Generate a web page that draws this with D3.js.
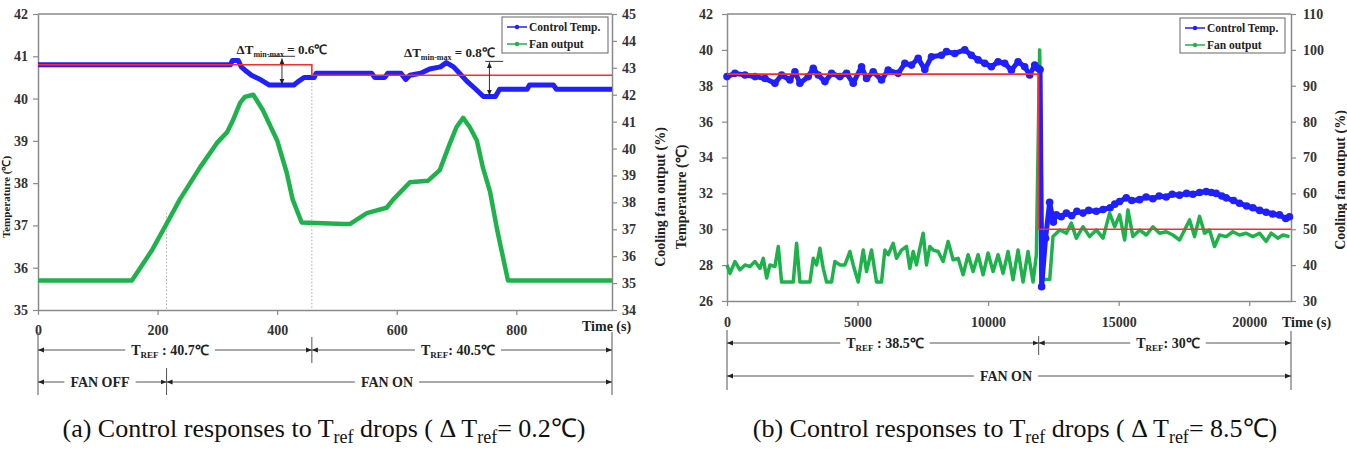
<!DOCTYPE html>
<html>
<head>
<meta charset="utf-8">
<script src="https://d3js.org/d3.v7.min.js"></script>
<style>
  body { margin: 0; background: #fff; }
  svg text { font-family: "Liberation Serif", "Times New Roman", serif; }
</style>
</head>
<body>
<div id="chart"></div>
<script>
// ---- panel (a): dT_ref = 0.2 ----
var aTicksX = [0, 200, 400, 600, 800];
var aTicksTemp = [35, 36, 37, 38, 39, 40, 41, 42];
var aTicksFan = [34, 35, 36, 37, 38, 39, 40, 41, 42, 43, 44, 45];
var aTempTime = [0,322,325,335,340,348,357,372,387,428,435,445,462,465,558,563,580,585,607,615,622,640,655,673,683,695,705,718,730,745,765,772,818,822,862,867,960];
var aTempVal  = [40.8,40.8,40.9,40.9,40.75,40.65,40.55,40.45,40.32,40.32,40.4,40.5,40.5,40.6,40.6,40.5,40.5,40.6,40.6,40.45,40.55,40.6,40.7,40.75,40.85,40.75,40.6,40.4,40.25,40.05,40.05,40.22,40.22,40.32,40.32,40.22,40.22];
var aFanTime = [0,157,190,215,237,271,299,316,326,338,346,360,376,400,416,426,441,512,522,550,583,594,622,652,672,689,700,711,722,734,744,756,768,786,960];
var aFanVal  = [35.1,35.1,36.2,37.2,38.1,39.3,40.2,40.6,41.05,41.7,41.92,42.0,41.43,40.3,39.1,38.1,37.25,37.2,37.2,37.6,37.8,38.1,38.75,38.8,39.2,40.2,40.8,41.14,40.8,40.3,39.3,38.4,36.97,35.1,35.1];
var aRefTime = [0, 458, 458, 960];
var aRefVal  = [40.8, 40.8, 40.55, 40.55];

// ---- panel (b): dT_ref = 8.5 ----
var bTicksX = [0, 5000, 10000, 15000, 20000];
var bTicksTemp = [26, 28, 30, 32, 34, 36, 38, 40, 42];
var bTicksFan = [30, 40, 50, 60, 70, 80, 90, 100, 110];
var bTempTime = [0,306,689,1071,1454,1836,2091,2410,2602,2793,3112,3303,3495,3750,4005,4324,4579,4834,5153,5344,5599,5918,6173,6556,6811,7066,7321,7576,7831,8213,8405,8723,9106,9361,9616,9871,10126,10381,10637,10892,11147,11402,11593,11785,11912,11990,
  12050,12200,12356,12500,12612,12800,12996,13200,13400,13634,13850,14144,14400,14674,14850,15036,15291,15500,15801,16050,16311,16550,16822,17050,17332,17600,17842,18100,18352,18550,18735,18950,19117,19400,19627,19900,20138,20400,20648,20900,21158,21400,21541];
var bTempVal  = [38.51,38.69,38.6,38.51,38.41,38.14,38.6,38.32,38.78,38.14,38.51,38.97,38.6,38.23,38.69,38.51,38.69,38.14,39.06,38.41,38.78,38.32,38.87,38.69,39.25,39.15,39.53,38.9,39.62,39.7,39.9,39.8,40.0,39.7,39.44,39.25,39.06,39.34,39.25,38.87,39.34,39.06,38.6,39.15,38.97,38.9,
  26.8,29.5,31.5,30.4,30.8,30.7,30.9,30.75,31.0,30.9,31.05,31.0,31.1,31.2,31.4,31.55,31.75,31.6,31.65,31.8,31.7,31.85,31.8,31.95,31.9,32.0,31.95,32.05,32.1,32.05,32.0,31.85,31.75,31.6,31.45,31.3,31.2,31.05,30.95,30.85,30.8,30.6,30.7];
var bFanTime = [0,115,306,497,689,880,1071,1262,1390,1518,1645,1836,1964,2091,2538,2665,2793,3176,3303,3431,3558,3686,3813,4005,4132,4324,4515,4706,4834,5025,5217,5344,5535,5727,5918,6046,6173,6364,6492,6683,6875,7002,7130,7257,7385,7512,7640,7767,7895,8086,8277,8468,8660,8851,9042,9234,9425,9616,9808,9999,10190,10381,10573,10764,10955,11147,11338,11529,11720,11848,
  11975,12090,12360,12485,12741,12996,13187,13378,13634,13889,14144,14399,14654,14846,15036,15228,15355,15546,15801,16057,16311,16567,16822,17077,17332,17587,17715,17906,18097,18289,18480,18671,18863,19117,19372,19627,19883,20138,20393,20648,20840,21095,21286,21541];
var bFanVal  = [40.06,37.7,41.0,38.7,40.06,39.6,41.0,39.1,41.9,36.4,40.06,39.6,45.2,35.3,35.3,46.1,35.3,35.3,41.9,40.06,44.7,39.1,35.3,35.3,41.0,40.06,40.06,43.8,40.06,35.3,44.2,38.2,44.2,35.3,35.3,44.2,42.9,46.1,41.9,44.2,45.2,39.1,43.8,40.06,44.7,48.9,40.06,45.2,44.2,43.8,41.0,46.6,41.5,41.9,37.3,42.9,38.2,42.9,37.3,43.4,38.2,42.9,37.7,43.8,35.9,44.2,35.3,43.8,35.3,42.9,
  100,36,36,47.95,49.8,48.9,51.7,47.5,50.7,47.95,49.8,47.5,54.5,50.7,54.0,47.0,55.4,47.95,49.8,48.4,50.7,48.9,49.3,48.4,47.0,50.7,52.6,47.95,53.6,48.9,49.8,45.2,48.4,47.95,49.3,48.4,48.9,47.95,48.9,46.6,48.9,47.5,48.4,47.95];
var bRefTime = [0, 11936, 11936, 21600];
var bRefVal  = [38.65, 38.65, 30, 30];

var BLUE = "#1f1fff", GREEN = "#1db34a", RED = "#ff2a2a", AXIS = "#8a8a8a";

var svg = d3.select("#chart").append("svg")
    .attr("width", 1347)
    .attr("height", 451);

var defs = svg.append("defs");
defs.append("marker")
    .attr("id", "arr")
    .attr("markerUnits", "userSpaceOnUse")
    .attr("markerWidth", 7).attr("markerHeight", 6)
    .attr("refX", 6).attr("refY", 3)
    .attr("orient", "auto-start-reverse")
  .append("path")
    .attr("d", "M0,0.5 L6,3 L0,5.5 Z")
    .attr("fill", "#222");

function rich(g, x, y, parts, anchor) {
    // parts: [text, size, dy]
    var t = g.append("text")
        .attr("x", x).attr("y", y)
        .attr("text-anchor", anchor || "start")
        .attr("font-weight", "bold")
        .attr("fill", "#222");
    parts.forEach(function (p) {
        t.append("tspan").attr("font-size", p[1] + "px").attr("dy", p[2] || 0).text(p[0]);
    });
    return t;
}

function spanLabel(g, xa, xb, y, cx, parts) {
    var t = rich(g, cx, y + 5, parts, "middle");
    var bb = t.node().getBBox();
    g.append("line").attr("x1", bb.x - 6).attr("x2", xa).attr("y1", y).attr("y2", y)
        .attr("stroke", "#555").attr("marker-end", "url(#arr)");
    g.append("line").attr("x1", bb.x + bb.width + 6).attr("x2", xb).attr("y1", y).attr("y2", y)
        .attr("stroke", "#555").attr("marker-end", "url(#arr)");
}

function vtick(g, x, y1, y2) {
    g.append("line").attr("x1", x).attr("x2", x).attr("y1", y1).attr("y2", y2)
        .attr("stroke", "#555").attr("stroke-width", 1);
}

function zip(ts, vs) { return ts.map(function (t, i) { return [t, vs[i]]; }); }

function drawPanel(p) {
    var g = svg.append("g");
    var x = d3.scaleLinear().domain([0, p.xMax]).range([p.left, p.right]);
    var yT = d3.scaleLinear().domain(p.tempDomain).range([p.bottom, p.top]);
    var yF = d3.scaleLinear().domain(p.fanDomain).range([p.bottom, p.top]);
    var fmt = d3.format("d");

    // axes
    var ax = g.append("g").attr("transform", "translate(0," + p.bottom + ")")
        .call(d3.axisBottom(x).tickValues(p.xTicks).tickSize(5).tickSizeOuter(0).tickPadding(p.xPad).tickFormat(fmt));
    var al = g.append("g").attr("transform", "translate(" + p.left + ",0)")
        .call(d3.axisLeft(yT).tickValues(p.tempTicks).tickSize(5).tickSizeOuter(0).tickPadding(p.lPad).tickFormat(fmt));
    var ar = g.append("g").attr("transform", "translate(" + p.right + ",0)")
        .call(d3.axisRight(yF).tickValues(p.fanTicks).tickSize(5).tickSizeOuter(0).tickPadding(p.rPad).tickFormat(fmt));
    [ax, al, ar].forEach(function (a) {
        a.select(".domain").attr("stroke", AXIS).attr("stroke-width", 1.5);
        a.selectAll(".tick line").attr("stroke", AXIS).attr("stroke-width", 1.2);
        a.selectAll("text").attr("font-family", "'Liberation Serif', serif")
            .attr("font-weight", "bold").attr("font-size", "14px").attr("fill", "#333");
    });
    g.append("line").attr("x1", p.left).attr("x2", p.right).attr("y1", p.top).attr("y2", p.top)
        .attr("stroke", AXIS).attr("stroke-width", 1.5);

    // dotted guides
    (p.guides || []).forEach(function (d) {
        g.append("line").attr("x1", x(d[0])).attr("x2", x(d[0]))
            .attr("y1", yT(d[1])).attr("y2", p.bottom)
            .attr("stroke", "#aaa").attr("stroke-dasharray", "1.5,2");
    });

    var lineT = d3.line().x(function (d) { return x(d[0]); }).y(function (d) { return yT(d[1]); });
    var lineF = d3.line().x(function (d) { return x(d[0]); }).y(function (d) { return yF(d[1]); });

    var fan = zip(p.fanTime, p.fanVal);
    var temp = zip(p.tempTime, p.tempVal);
    var ref = zip(p.refTime, p.refVal);

    g.append("path").datum(fan).attr("d", lineF)
        .attr("fill", "none").attr("stroke", GREEN).attr("stroke-width", p.fanW)
        .attr("stroke-linejoin", "round");
    g.append("path").datum(temp).attr("d", lineT)
        .attr("fill", "none").attr("stroke", BLUE).attr("stroke-width", p.tempW)
        .attr("stroke-linejoin", "round");
    if (p.tempDots) {
        g.selectAll(".dot").data(temp).enter().append("circle")
            .attr("cx", function (d) { return x(d[0]); })
            .attr("cy", function (d) { return yT(d[1]); })
            .attr("r", p.tempDots).attr("fill", BLUE);
    }
    g.append("path").datum(ref).attr("d", lineT)
        .attr("fill", "none").attr("stroke", RED).attr("stroke-width", 1.6);

    // legend
    var lg = g.append("g");
    lg.append("rect").attr("x", p.leg[0]).attr("y", p.leg[1]).attr("width", p.leg[2]).attr("height", p.leg[3])
        .attr("fill", "#fff").attr("stroke", "#666").attr("stroke-width", 1);
    [["Control Temp.", BLUE, 10], ["Fan output", GREEN, 27]].forEach(function (e) {
        var ly = p.leg[1] + e[2];
        lg.append("line").attr("x1", p.leg[0] + 5).attr("x2", p.leg[0] + 25).attr("y1", ly).attr("y2", ly)
            .attr("stroke", e[1]).attr("stroke-width", 1.5);
        lg.append("circle").attr("cx", p.leg[0] + 15).attr("cy", ly).attr("r", 2.2).attr("fill", e[1]);
        lg.append("text").attr("x", p.leg[0] + 27).attr("y", ly + 4)
            .attr("font-weight", "bold").attr("font-size", "11.5px").attr("fill", "#222").text(e[0]);
    });

    // axis title
    g.append("text").attr("x", p.timeX).attr("y", p.bottom + p.timeDy)
        .attr("font-weight", "bold").attr("font-size", "14px").attr("fill", "#222").text("Time (s)");

    return { g: g, x: x, yT: yT, yF: yF };
}

// ---------- panel (a) ----------
var A = drawPanel({
    left: 38, right: 612, top: 14, bottom: 310,
    xMax: 960, tempDomain: [35, 42], fanDomain: [34, 45],
    xTicks: aTicksX, tempTicks: aTicksTemp, fanTicks: aTicksFan,
    xPad: 10, lPad: 5, rPad: 5,
    tempTime: aTempTime, tempVal: aTempVal, fanTime: aFanTime, fanVal: aFanVal,
    refTime: aRefTime, refVal: aRefVal,
    tempW: 5, fanW: 4.5, tempDots: 0,
    guides: [[215, 37.3], [458, 40.55]],
    leg: [502, 17, 106, 36],
    timeX: 582, timeDy: 21
});

// delta annotations (a)
(function () {
    var g = A.g, x = A.x, y = A.yT;
    rich(g, x(408), 54, [["\u0394T", 13], ["min-max", 8, 3], [" = 0.6\u2103", 13, -3]], "middle");
    g.append("line").attr("x1", x(385)).attr("x2", x(430)).attr("y1", y(41.0)).attr("y2", y(41.0))
        .attr("stroke", "#333");
    g.append("line").attr("x1", x(408)).attr("x2", x(408)).attr("y1", y(40.95)).attr("y2", y(40.33))
        .attr("stroke", "#333").attr("marker-start", "url(#arr)").attr("marker-end", "url(#arr)");
    rich(g, x(688), 57, [["\u0394T", 13], ["min-max", 8, 3], [" = 0.8\u2103", 13, -3]], "middle");
    g.append("line").attr("x1", x(748)).attr("x2", x(778)).attr("y1", y(40.88)).attr("y2", y(40.88))
        .attr("stroke", "#333");
    g.append("line").attr("x1", x(755)).attr("x2", x(755)).attr("y1", y(40.86)).attr("y2", y(40.07))
        .attr("stroke", "#333").attr("marker-start", "url(#arr)").attr("marker-end", "url(#arr)");

    vtick(g, x(0), 332, 395);
    vtick(g, x(960), 332, 395);
    vtick(g, x(458), 337, 363);
    vtick(g, x(215), 368, 395);
    spanLabel(g, x(0), x(458), 350, 170, [["T", 14], ["REF", 9, 3], [" : 40.7\u2103", 14, -3]]);
    spanLabel(g, x(458), x(960), 350, 458, [["T", 14], ["REF", 9, 3], [": 40.5\u2103", 14, -3]]);
    spanLabel(g, x(0), x(215), 382, 100, [["FAN OFF", 14]]);
    spanLabel(g, x(215), x(960), 382, 387, [["FAN ON", 14]]);
})();

// ---------- panel (b) ----------
var B = drawPanel({
    left: 727, right: 1291, top: 14, bottom: 301,
    xMax: 21600, tempDomain: [26, 42], fanDomain: [30, 110],
    xTicks: bTicksX, tempTicks: bTicksTemp, fanTicks: bTicksFan,
    xPad: 11, lPad: 9, rPad: 7,
    tempTime: bTempTime, tempVal: bTempVal, fanTime: bFanTime, fanVal: bFanVal,
    refTime: bRefTime, refVal: bRefVal,
    tempW: 5, fanW: 3.5, tempDots: 3.8,
    guides: [],
    leg: [1180, 18, 105, 35],
    timeX: 1282, timeDy: 26
});

(function () {
    var g = B.g, x = B.x;
    vtick(g, x(0), 330, 390);
    vtick(g, x(21600), 331, 390);
    vtick(g, x(11936), 336, 355);
    spanLabel(g, x(0), x(11936), 343, 885, [["T", 14], ["REF", 9, 3], [" : 38.5\u2103", 14, -3]]);
    spanLabel(g, x(11936), x(21600), 343, 1168, [["T", 14], ["REF", 9, 3], [": 30\u2103", 14, -3]]);
    spanLabel(g, x(0), x(21600), 376, 1006, [["FAN ON", 14]]);
})();

// vertical axis titles
function vlabel(tx, ty, txt, size) {
    svg.append("text").attr("transform", "translate(" + tx + "," + ty + ") rotate(-90)")
        .attr("text-anchor", "middle").attr("font-weight", "bold").attr("font-size", (size || 14) + "px")
        .attr("fill", "#222").text(txt);
}
vlabel(10, 197, "Temperature (\u2103)", 11);
vlabel(665, 197, "Cooling fan output (%)");
vlabel(686, 197, "Temperature (\u2103)");
vlabel(1345, 180, "Cooling fan output (%)");

// captions
function caption(cx, tag, dv) {
    var t = svg.append("text").attr("x", cx).attr("y", 437).attr("text-anchor", "middle")
        .attr("font-size", "26px").attr("fill", "#111");
    t.append("tspan").text(tag + " Control responses to T");
    t.append("tspan").attr("font-size", "18px").attr("dy", 6).text("ref");
    t.append("tspan").attr("dy", -6).text(" drops ( \u0394 T");
    t.append("tspan").attr("font-size", "18px").attr("dy", 6).text("ref");
    t.append("tspan").attr("dy", -6).text("= " + dv + "\u2103)");
}
caption(324, "(a)", "0.2");
caption(1015, "(b)", "8.5");
</script>
</body>
</html>
